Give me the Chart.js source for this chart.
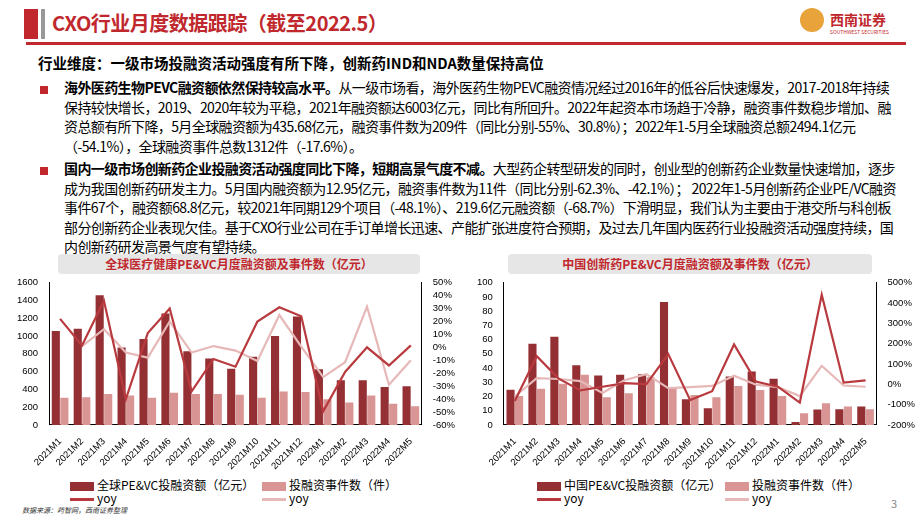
<!DOCTYPE html>
<html><head><meta charset="utf-8">
<script src="https://cdn.jsdelivr.net/npm/chart.js@4"></script>
<style>
body{margin:0;width:920px;height:518px;background:#fff;font-family:"Noto Sans CJK SC","Noto Sans",sans-serif;position:relative;overflow:hidden;color:#000}
.abs{position:absolute}
.title{left:52px;top:8px;font-size:20px;font-weight:bold;color:#c0282d;letter-spacing:-0.5px}
.sub{left:38px;top:52px;font-size:14.5px;font-weight:bold}
.para{left:64px;width:836px;font-size:14px;line-height:19.5px;letter-spacing:-0.6px}
.bul{left:40px;width:8px;height:8px;background:#c0282d}
.ptitle{height:20px;background:#e6e6e6;border-radius:4px;color:#c0282d;font-weight:bold;font-size:12px;text-align:center;line-height:20px}
.cv{z-index:5}
.leg{font-size:12px;font-family:"Noto Sans CJK SC",sans-serif;line-height:15px}
.leg span.b{display:inline-block;width:24px;height:9px;vertical-align:middle;margin-right:3px}
.leg span.l{display:inline-block;width:24px;height:3px;vertical-align:middle;margin-right:3px}
</style></head><body>
<div class="abs" style="left:24px;top:9px;width:14px;height:30px;background:#c0282d"></div>
<div class="abs" style="left:41px;top:9px;width:4px;height:30px;background:#999"></div>
<div class="abs title">CXO行业月度数据跟踪（截至2022.5）</div>
<div class="abs" style="left:26px;top:42px;width:880px;height:3px;background:#c0282d"></div>
<div class="abs" style="left:800px;top:8px;width:24px;height:24px;border-radius:50%;background:#e8a33a"></div>
<div class="abs" style="left:830px;top:9px;font-size:14px;font-weight:bold;color:#c0282d">西南证券</div>
<div class="abs" style="left:830px;top:28px;font-size:5px;color:#c0282d">SOUTHWEST SECURITIES</div>
<div class="abs sub">行业维度：一级市场投融资活动强度有所下降，创新药IND和NDA数量保持高位</div>
<div class="abs bul" style="top:86px"></div>
<div class="abs para" style="top:78px"><b>海外医药生物PEVC融资额依然保持较高水平。</b>从一级市场看，海外医药生物PEVC融资情况经过2016年的低谷后快速爆发，2017-2018年持续保持较快增长，2019、2020年较为平稳，2021年融资额达6003亿元，同比有所回升。2022年起资本市场趋于冷静，融资事件数稳步增加、融资总额有所下降，5月全球融资额为435.68亿元，融资事件数为209件（同比分别-55%、30.8%）；2022年1-5月全球融资总额2494.1亿元（-54.1%），全球融资事件总数1312件（-17.6%）。</div>
<div class="abs bul" style="top:167px"></div>
<div class="abs para" style="top:159px"><b>国内一级市场创新药企业投融资活动强度同比下降，短期高景气度不减。</b>大型药企转型研发的同时，创业型的创新药企业数量快速增加，逐步成为我国创新药研发主力。5月国内融资额为12.95亿元，融资事件数为11件（同比分别-62.3%、-42.1%）； 2022年1-5月创新药企业PE/VC融资事件67个，融资额68.8亿元，较2021年同期129个项目（-48.1%）、219.6亿元融资额（-68.7%）下滑明显，我们认为主要由于港交所与科创板部分创新药企业表现欠佳。基于CXO行业公司在手订单增长迅速、产能扩张进度符合预期，及过去几年国内医药行业投融资活动强度持续，国内创新药研发高景气度有望持续。</div>
<div class="abs ptitle" style="left:58px;top:254px;width:362px">全球医疗健康PE&amp;VC月度融资额及事件数（亿元）</div>
<div class="abs ptitle" style="left:508px;top:254px;width:364px">中国创新药PE&amp;VC月度融资额及事件数（亿元）</div>
<div class="abs cv" style="left:14px;top:274px;width:444px;height:201px"><canvas id="c1"></canvas></div>
<div class="abs cv" style="left:474px;top:274px;width:444px;height:201px"><canvas id="c2"></canvas></div>
<div class="abs leg" style="left:70px;top:477px"><span class="b" style="background:#943034"></span>全球PE&amp;VC投融资额（亿元）</div>
<div class="abs leg" style="left:262px;top:477px"><span class="b" style="background:#d99594"></span>投融资事件数（件）</div>
<div class="abs leg" style="left:70px;top:490px"><span class="l" style="background:#b93a3e"></span>yoy</div>
<div class="abs leg" style="left:262px;top:490px"><span class="l" style="background:#e6b8b7"></span>yoy</div>
<div class="abs leg" style="left:537px;top:477px"><span class="b" style="background:#943034"></span>中国PE&amp;VC投融资额（亿元）</div>
<div class="abs leg" style="left:725px;top:477px"><span class="b" style="background:#d99594"></span>投融资事件数（件）</div>
<div class="abs leg" style="left:537px;top:490px"><span class="l" style="background:#b93a3e"></span>yoy</div>
<div class="abs leg" style="left:725px;top:490px"><span class="l" style="background:#e6b8b7"></span>yoy</div>
<div class="abs" style="left:22px;top:505px;font-size:7px;font-style:italic;color:#333">数据来源：药智网，西南证券整理</div>
<div class="abs" style="left:891px;top:495px;font-size:11px;color:#888">3</div>
<script>
const months = ['2021M1','2021M2','2021M3','2021M4','2021M5','2021M6','2021M7','2021M8','2021M9','2021M10','2021M11','2021M12','2022M1','2022M2','2022M3','2022M4','2022M5'];
const globalAmount = [1058,1081,1458,871,966,1254,830,746,631,766,1000,1220,627,502,502,427,436];
const globalEvents = [305,312,349,332,305,363,349,349,339,305,376,370,288,251,332,237,209];
const globalAmountYoy = [22,1.5,36,-40,11,30,-34,-9,-15,20,31,24,-49.5,-19,0,-14,1.5];
const globalEventsYoy = [null,1,14,-4,-8,20,-4,1,-2.5,-10.5,25,0.5,-23,-11.5,31.5,-29,-10];
const chinaAmount = [24.7,57,62,42,34.8,35.2,35.6,86.4,18,11.7,34,37.5,32.5,2,10.9,11.1,12.95];
const chinaEvents = [20.3,25.4,29,35.2,19.5,22.2,33.5,26,21,19.5,27.3,24.5,20.3,8.2,15.3,13,11.1];
const chinaAmountYoy = [-82,138,28,-30,-12,6,1,149,-78,-34,196,13,-12,-90,441,8,19];
const chinaEventsYoy = [-60,30,26,16,-43,20,50,-19,-14,-8,42,-2,-14,-58,91,-6,-12];

const tickFont = {family: 'Liberation Sans, Arial', size: 9.5};
function build(id, amount, events, yoyA, yoyE, leftMax, leftCount, rMin, rMax, rCount) {
    return new Chart(document.getElementById(id), {
        data: {
            labels: months,
            datasets: [
                {type: 'line', data: yoyA, yAxisID: 'y1', borderColor: '#b93a3e', borderWidth: 2.2, pointRadius: 0, tension: 0, order: 0},
                {type: 'line', data: yoyE, yAxisID: 'y1', borderColor: '#e6b8b7', borderWidth: 2.2, pointRadius: 0, tension: 0, order: 1},
                {type: 'bar', data: amount, yAxisID: 'y', backgroundColor: '#943034', categoryPercentage: 0.78, barPercentage: 0.95, order: 2},
                {type: 'bar', data: events, yAxisID: 'y', backgroundColor: '#d99594', categoryPercentage: 0.78, barPercentage: 0.95, order: 2}
            ]
        },
        options: {
            responsive: true, maintainAspectRatio: false, animation: false,
            layout: {padding: {top: 2, right: 0}},
            plugins: {legend: {display: false}, tooltip: {enabled: false}},
            scales: {
                x: {grid: {display: false}, border: {color: '#000'},
                    ticks: {font: tickFont, color: '#000', maxRotation: 45, minRotation: 45, autoSkip: false}},
                y: {min: 0, max: leftMax, grid: {display: false}, border: {color: '#000'},
                    ticks: {count: leftCount, font: tickFont, color: '#000', autoSkip: false, callback: v => String(Math.round(v))}},
                y1: {position: 'right', min: rMin, max: rMax, grid: {display: false}, border: {color: '#000'},
                    ticks: {count: rCount, font: tickFont, color: '#000', autoSkip: false, callback: v => Math.round(v) + '%'}}
            }
        }
    });
}
build('c1', globalAmount, globalEvents, globalAmountYoy, globalEventsYoy, 1600, 9, -60, 50, 12);
build('c2', chinaAmount, chinaEvents, chinaAmountYoy, chinaEventsYoy, 100, 11, -200, 500, 8);
</script>
</body></html>
